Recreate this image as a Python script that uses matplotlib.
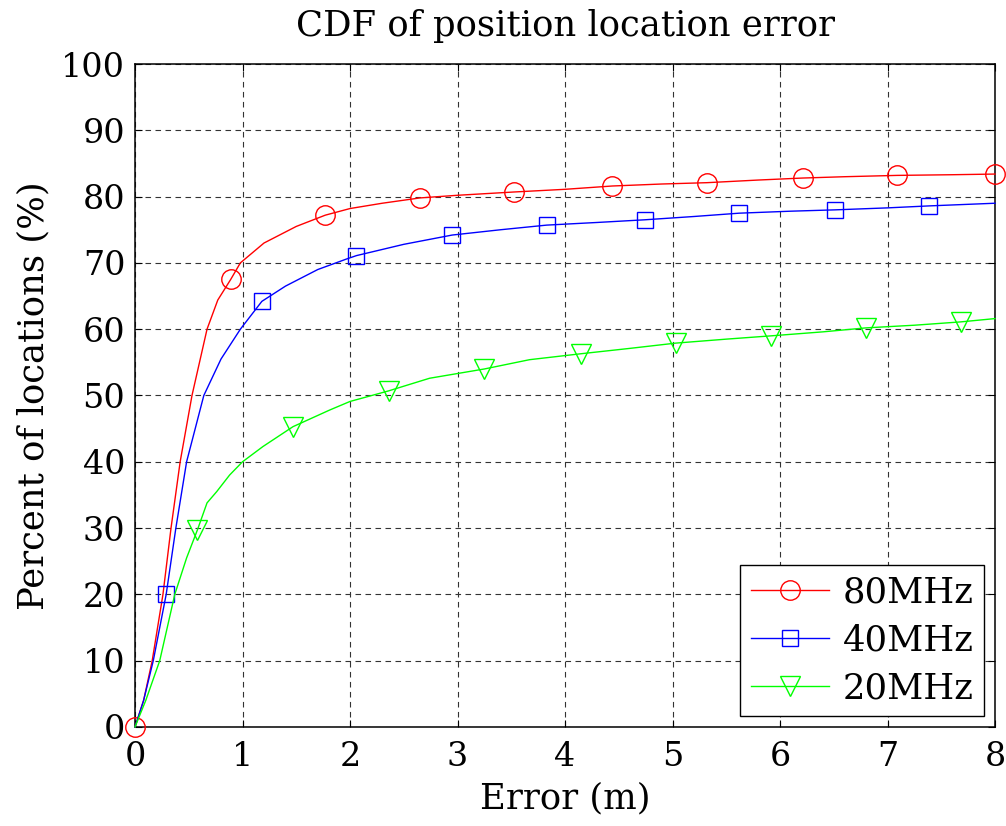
import matplotlib
matplotlib.use("Agg")
import matplotlib.pyplot as plt

plt.rcParams['font.family'] = ['DejaVu Serif']
plt.rcParams['mathtext.fontset'] = 'dejavuserif'

# === Data ===
x_80 = [0, 0.08, 0.16, 0.26, 0.335, 0.42, 0.53, 0.67, 0.77, 0.89, 0.98, 1.2, 1.5, 1.77,
        2.0, 2.3, 2.65, 3.0, 3.53, 4.0, 4.44, 4.9, 5.32, 5.8, 6.21, 6.6, 7.09, 7.6, 8.0]
y_80 = [0, 4, 10, 20, 30, 40, 50, 60, 64.4, 67.5, 70, 73, 75.5, 77.2,
        78.2, 79.0, 79.8, 80.2, 80.7, 81.1, 81.6, 81.9, 82.1, 82.5, 82.8, 83.0, 83.2, 83.3, 83.4]
mk_80 = [0, 0.89, 1.77, 2.65, 3.53, 4.44, 5.32, 6.21, 7.09, 8.0]

x_40 = [0, 0.08, 0.17, 0.29, 0.38, 0.48, 0.64, 0.8, 0.98, 1.18, 1.4, 1.7, 1.97, 2.06,
        2.5, 2.95, 3.4, 3.83, 4.3, 4.74, 5.2, 5.62, 6.1, 6.51, 7.0, 7.39, 8.0]
y_40 = [0, 4, 10, 20, 30, 40, 50, 55.5, 60, 64.2, 66.5, 69, 70.6, 71.1,
        72.8, 74.2, 75.0, 75.7, 76.1, 76.5, 77.0, 77.5, 77.8, 78.0, 78.3, 78.6, 79.0]
mk_40 = [0.29, 1.18, 2.06, 2.95, 3.83, 4.74, 5.62, 6.51, 7.39]

x_20 = [0, 0.1, 0.23, 0.37, 0.48, 0.58, 0.67, 0.76, 0.88, 1.0, 1.19, 1.47, 1.81, 2.0,
        2.36, 2.74, 3.25, 3.67, 4.15, 4.6, 5.03, 5.5, 5.92, 6.4, 6.8, 7.25, 7.68, 8.0]
y_20 = [0, 4, 10, 20, 25.5, 29.7, 33.8, 35.5, 38, 40, 42.3, 45.3, 47.8, 49.1,
        50.7, 52.6, 54.0, 55.4, 56.3, 57.1, 57.9, 58.5, 59.0, 59.6, 60.2, 60.6, 61.1, 61.6]
mk_20 = [0.58, 1.47, 2.36, 3.25, 4.15, 5.03, 5.92, 6.8, 7.68]

labels = ['80MHz', '40MHz', '20MHz']
x_ticks = [0, 1, 2, 3, 4, 5, 6, 7, 8]
y_ticks = [0, 10, 20, 30, 40, 50, 60, 70, 80, 90, 100]

series = [
    (x_80, y_80, mk_80, '#ff0000', 'o', 14),
    (x_40, y_40, mk_40, '#0000ff', 's', 11.5),
    (x_20, y_20, mk_20, '#00ff00', 'v', 15),
]

fig = plt.figure(figsize=(10.06, 8.26), dpi=100)
ax = fig.add_axes([0.1342, 0.1199, 0.8549, 0.8026])

for (xs, ys, mk, col, m, ms), lab in zip(series, labels):
    idx = [xs.index(v) for v in mk]
    ax.plot(xs, ys, color=col, lw=1.0, marker=m, markevery=idx, ms=ms,
            markerfacecolor='none', markeredgecolor=col, markeredgewidth=1.0,
            label=lab, clip_on=False, zorder=3)

ax.set_xlim(0, 8)
ax.set_ylim(0, 100)
ax.set_xticks(x_ticks)
ax.set_yticks(y_ticks)
ax.tick_params(axis='both', direction='in', length=5, width=0.8, top=True, right=True,
               labelsize=24)
ax.tick_params(axis='x', pad=10)
ax.tick_params(axis='y', pad=7)
ax.grid(True, color='#333333', linestyle=(0, (5, 4)), linewidth=0.8)
for s in ax.spines.values():
    s.set_linewidth(1.1)

ax.set_title('CDF of position location error', fontsize=25.5, pad=20)
ax.set_xlabel('Error (m)', fontsize=25.5, labelpad=6)
ax.set_ylabel('Percent of locations (%)', fontsize=25.5, labelpad=8)

leg = ax.legend(loc='lower right', fontsize=25.5, fancybox=False, framealpha=1,
                edgecolor='black', handlelength=2.2, borderaxespad=0.3,
                labelspacing=0.4, handletextpad=0.4, borderpad=0.3)
leg.get_frame().set_linewidth(1.0)

fig.savefig('out.png', dpi=100)
